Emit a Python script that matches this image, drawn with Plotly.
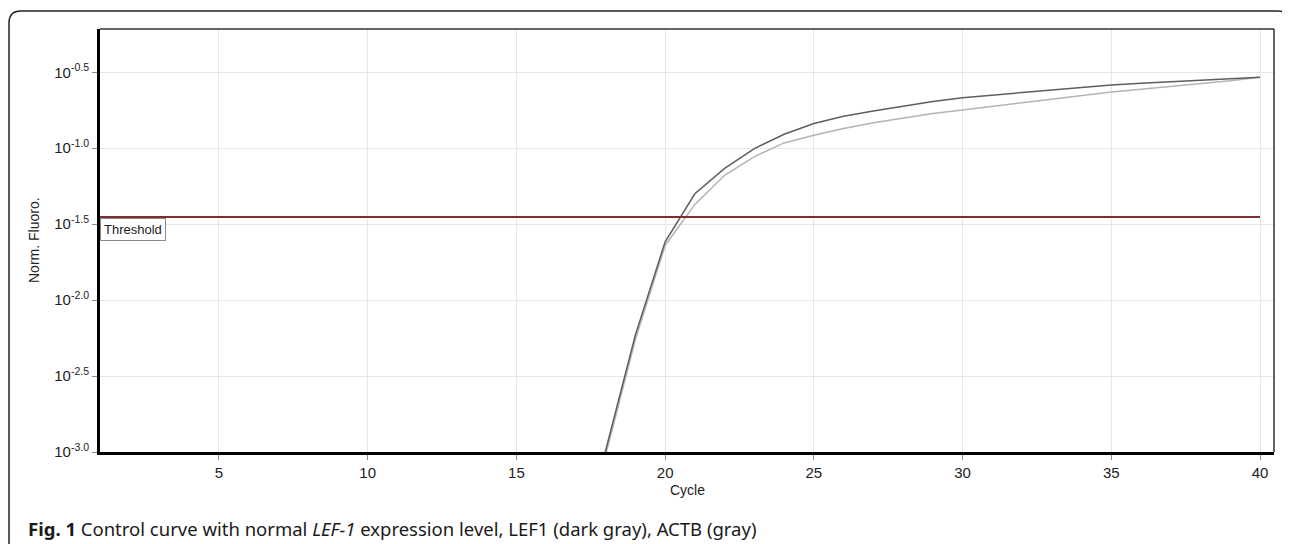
import plotly.graph_objects as go

# ---- data (log10 of normalised fluorescence) ----
cycles = list(range(17, 41))
lef1_log = [-3.6, -2.99, -2.23, -1.616, -1.30, -1.133, -1.002, -0.908, -0.837, -0.790,
            -0.755, -0.722, -0.693, -0.667, -0.650, -0.633, -0.615, -0.597, -0.583,
            -0.573, -0.563, -0.553, -0.543, -0.533]
actb_log = [-3.65, -3.02, -2.26, -1.64, -1.37, -1.178, -1.055, -0.965, -0.915, -0.870,
            -0.832, -0.800, -0.772, -0.748, -0.724, -0.700, -0.676, -0.652, -0.630,
            -0.612, -0.594, -0.578, -0.555, -0.533]
threshold_log = -1.452
threshold_x = [1, 40]
x_ticks = [5, 10, 15, 20, 25, 30, 35, 40]
y_tick_exps = [-3.0, -2.5, -2.0, -1.5, -1.0, -0.5]
y_tick_labels = ["10<sup>-3.0</sup>", "10<sup>-2.5</sup>", "10<sup>-2.0</sup>",
                 "10<sup>-1.5</sup>", "10<sup>-1.0</sup>", "10<sup>-0.5</sup>"]
caption_html = ("<b>Fig. 1</b> Control curve with normal <i>LEF-1</i> expression level, "
                "LEF1 (dark gray), ACTB (gray)")

lef1 = [10 ** v for v in lef1_log]
actb = [10 ** v for v in actb_log]
thr = 10 ** threshold_log

OFF = 8  # page body margin
W, H = 1290 - OFF, 544 - OFF
L, R, T, B = 100 - OFF, 1274 - OFF, 29 - OFF, 452 - OFF


def px(xp):  # page pixel x -> paper
    return (xp - OFF - L) / (R - L)


def py(yp):  # page pixel y -> paper
    return (B - (yp - OFF)) / (B - T)


fig = go.Figure()
fig.add_trace(go.Scatter(x=cycles, y=actb, mode="lines", name="ACTB",
                         line=dict(color="#b4b4b4", width=1.5), hoverinfo="skip"))
fig.add_trace(go.Scatter(x=cycles, y=lef1, mode="lines", name="LEF1",
                         line=dict(color="#5e5e5e", width=1.5), hoverinfo="skip"))
fig.add_trace(go.Scatter(x=threshold_x, y=[thr, thr], mode="lines", name="Threshold",
                         line=dict(color="#7e3030", width=2), hoverinfo="skip"))

axis_font = dict(family="Liberation Sans, Arial, sans-serif", size=15, color="#222")

fig.update_xaxes(range=[1.0, 40.47], tickvals=x_ticks, ticktext=[str(v) for v in x_ticks],
                 showgrid=True, gridcolor="#e6e6e6", gridwidth=1, zeroline=False,
                 showline=True, linecolor="#000", linewidth=3,
                 ticks="outside", ticklen=5, tickcolor="#888", tickwidth=1,
                 tickfont=axis_font)
fig.update_yaxes(type="log", range=[-3.0, -0.215],
                 tickvals=[10 ** e for e in y_tick_exps], ticktext=y_tick_labels,
                 showgrid=True, gridcolor="#e6e6e6", gridwidth=1, zeroline=False,
                 showline=True, linecolor="#000", linewidth=3,
                 ticks="outside", ticklen=5, tickcolor="#888", tickwidth=1,
                 tickfont=axis_font)

shapes = [
    dict(type="line", xref="paper", yref="paper", x0=0, x1=1, y0=1, y1=1,
         line=dict(color="#333", width=1.5)),
    dict(type="line", xref="paper", yref="paper", x0=1, x1=1, y0=0, y1=1,
         line=dict(color="#333", width=1.5)),
]
lx, ty = px(9), py(11)
path = (f"M {lx},{py(560)} L {lx},{py(23)} Q {lx},{ty} {px(21)},{ty} "
        f"L {px(1278)},{ty} Q {px(1286)},{ty} {px(1288)},{py(17)}")
shapes.append(dict(type="path", xref="paper", yref="paper", path=path,
                   line=dict(color="#222", width=1.5)))

annotations = [
    dict(text="Threshold", xref="x", yref="paper", x=1.0, y=py(218), xanchor="left",
         yanchor="top", showarrow=False, bgcolor="#fff", bordercolor="#8a8a8a",
         borderwidth=1, borderpad=3,
         font=dict(family="Liberation Sans, Arial, sans-serif", size=13, color="#222")),
    dict(text="Cycle", xref="paper", yref="paper", x=0.5, y=py(490), xanchor="center",
         yanchor="middle", showarrow=False,
         font=dict(family="Liberation Sans, Arial, sans-serif", size=14, color="#222")),
    dict(text="Norm. Fluoro.", xref="paper", yref="paper", x=px(34), y=py(240),
         xanchor="center", yanchor="middle", textangle=-90, showarrow=False,
         font=dict(family="Liberation Sans, Arial, sans-serif", size=14, color="#222")),
    dict(text=caption_html, xref="paper", yref="paper", x=px(26), y=py(528),
         xanchor="left", yanchor="middle", showarrow=False,
         font=dict(family="Noto Sans, Open Sans, sans-serif", size=18.5, color="#1a1a1a")),
]

fig.update_layout(width=W, height=H, margin=dict(l=L, r=W - R, t=T, b=H - B),
                  plot_bgcolor="#fff", paper_bgcolor="#fff", showlegend=False,
                  shapes=shapes, annotations=annotations)

fig.write_html("out.html")
